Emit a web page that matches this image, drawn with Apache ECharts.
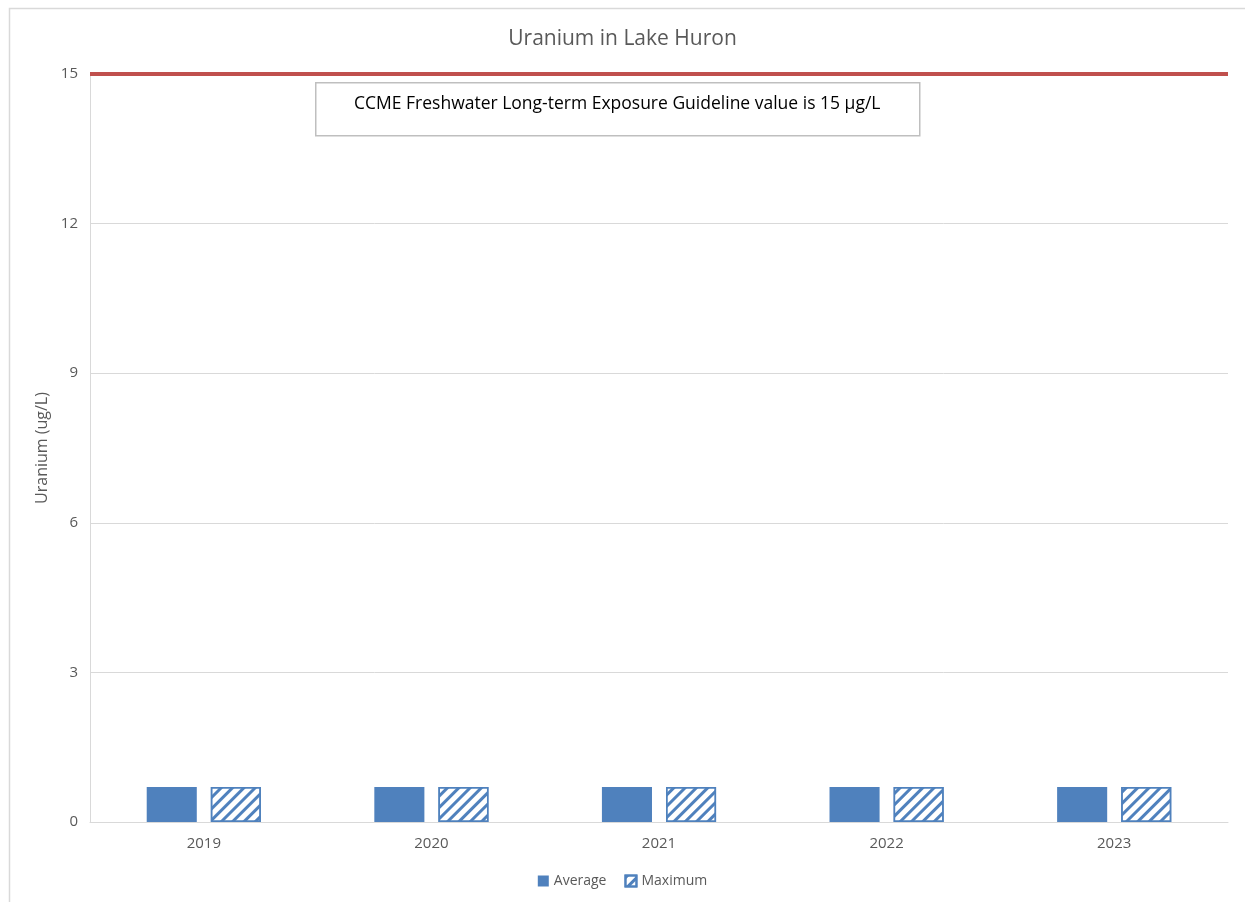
<!DOCTYPE html>
<html>
<head>
<meta charset="utf-8">
<script src="https://cdn.jsdelivr.net/npm/echarts@6/dist/echarts.min.js"></script>
<style>
  html, body { margin: 0; padding: 0; background: #fff; }
  #chart { width: 1245px; height: 902px; }
</style>
</head>
<body>
<div id="chart"></div>
<script>
// chart data
var years = ['2019', '2020', '2021', '2022', '2023'];
var averageValues = [0.7, 0.7, 0.7, 0.7, 0.7];
var maximumValues = [0.7, 0.7, 0.7, 0.7, 0.7];
var guidelineValue = 15;
var yTicks = [0, 3, 6, 9, 12, 15];

var blue = '#4f81bd';
var grey = '#595959';
var font = 'Open Sans';

var chart = echarts.init(document.getElementById('chart'));

chart.setOption({
  backgroundColor: '#fff',
  animation: false,
  textStyle: { fontFamily: font },
  title: {
    text: 'Uranium in Lake Huron',
    left: 'center',
    top: 24,
    textStyle: { fontFamily: font, fontWeight: 'normal', fontSize: 21, color: grey }
  },
  grid: { left: 90, right: 17, top: 74, bottom: 80 },
  legend: {
    bottom: 9,
    left: 'center',
    icon: 'rect',
    itemWidth: 11,
    itemHeight: 11,
    itemGap: 18,
    textStyle: { fontFamily: font, fontSize: 14, color: grey },
    data: ['Average', 'Maximum']
  },
  xAxis: {
    type: 'category',
    data: years,
    axisLine: { lineStyle: { color: '#d9d9d9', width: 1 } },
    axisTick: { show: false },
    axisLabel: { color: grey, fontSize: 15, margin: 14 }
  },
  yAxis: {
    type: 'value',
    min: yTicks[0],
    max: yTicks[yTicks.length - 1],
    interval: 3,
    name: 'Uranium (ug/L)',
    nameLocation: 'middle',
    nameGap: 36,
    nameTextStyle: { color: grey, fontSize: 16 },
    axisLine: { show: true, lineStyle: { color: '#d9d9d9' } },
    axisTick: { show: false },
    axisLabel: { color: grey, fontSize: 15, margin: 12 },
    splitLine: { lineStyle: { color: '#d9d9d9' } }
  },
  series: [
    {
      name: 'Average',
      type: 'bar',
      data: averageValues,
      barWidth: '22%',
      barGap: '28%',
      itemStyle: { color: blue },
      markLine: {
        silent: true,
        symbol: 'none',
        label: { show: false },
        lineStyle: { color: '#c0504d', width: 4, type: 'solid' },
        data: [{ yAxis: guidelineValue }]
      }
    },
    {
      name: 'Maximum',
      type: 'bar',
      data: maximumValues,
      barWidth: '22%',
      itemStyle: {
        color: '#fff',
        borderColor: blue,
        borderWidth: 1.5,
        decal: {
          symbol: 'rect',
          color: blue,
          dashArrayX: [1, 0],
          dashArrayY: [3, 5],
          rotation: -Math.PI / 4
        }
      }
    }
  ],
  graphic: [
    {
      type: 'rect',
      left: 7,
      top: 6,
      shape: { width: 1260, height: 920 },
      style: { fill: 'none', stroke: '#d9d9d9', lineWidth: 1.5 },
      silent: true,
      z: -1
    },
    {
      type: 'rect',
      left: 315,
      top: 82,
      shape: { width: 604, height: 53 },
      style: { fill: '#fff', stroke: '#bfbfbf', lineWidth: 1.5 },
      z: 100
    },
    {
      type: 'text',
      left: 354,
      top: 95,
      style: {
        text: 'CCME Freshwater Long-term Exposure Guideline value is 15 \u00b5g/L',
        fontFamily: font,
        fontSize: 17.5,
        fill: '#000'
      },
      z: 101
    }
  ]
});
</script>
</body>
</html>
